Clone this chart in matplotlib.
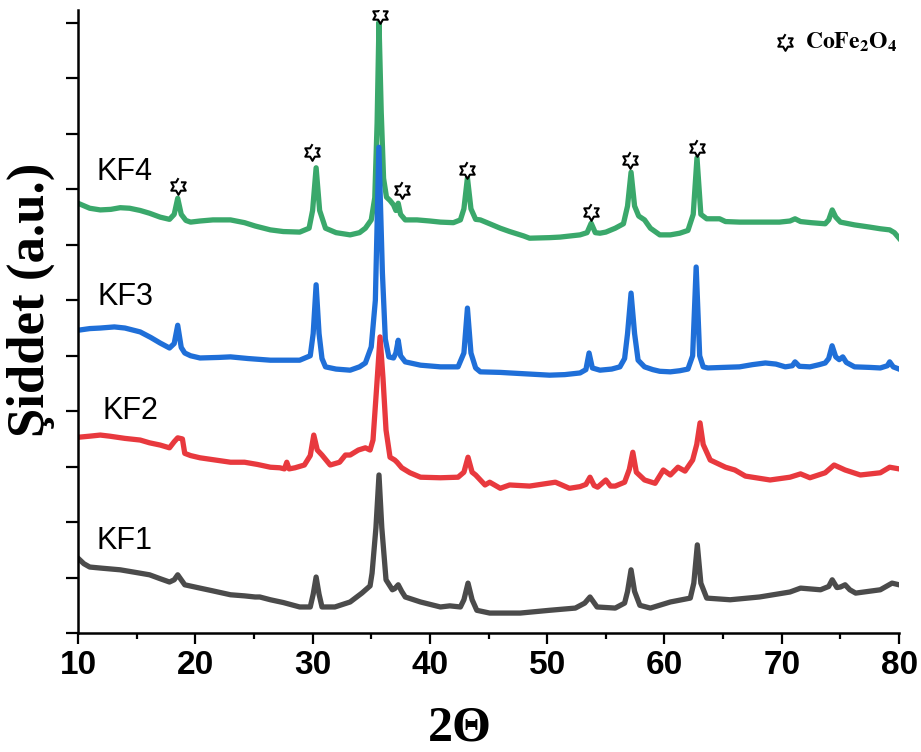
import numpy as np
import matplotlib.pyplot as plt
from matplotlib.path import Path
from matplotlib.ticker import MultipleLocator

# XRD patterns (2-theta in degrees, intensity in stacked a.u.)
kf4_2theta = [10.0, 11.0, 11.9, 12.8, 13.6, 14.4, 15.3, 16.1, 17.0, 17.8, 18.2, 18.5, 18.8, 19.2, 19.6,
              20.4, 21.5, 23.0, 24.2, 25.1, 26.4, 27.5, 28.9, 29.7, 30.0, 30.3, 30.6, 31.1, 32.0, 33.2,
              34.0, 34.5, 35.0, 35.3, 35.5, 35.66, 35.85, 36.05, 36.3, 36.6, 36.9, 37.1, 37.3, 37.5, 37.9,
              38.9, 40.0, 40.9, 42.0, 42.6, 42.9, 43.2, 43.5, 43.9, 44.3, 45.1, 46.0, 46.8, 48.0, 48.5,
              50.2, 51.1, 52.8, 53.4, 53.75, 54.1, 54.5, 55.0, 55.8, 56.5, 56.85, 57.15, 57.45, 57.8, 58.3,
              58.8, 59.6, 60.5, 61.3, 62.0, 62.45, 62.77, 63.1, 63.6, 64.7, 65.2, 66.4, 68.0, 69.8, 70.7,
              71.13, 71.6, 72.5, 73.7, 74.0, 74.3, 74.6, 75.0, 76.2, 77.5, 78.4, 79.2, 79.6, 80.0]
kf4_int = [7.75, 7.66, 7.63, 7.64, 7.67, 7.66, 7.62, 7.57, 7.50, 7.46, 7.55, 7.84, 7.55, 7.44, 7.41,
           7.43, 7.45, 7.45, 7.40, 7.34, 7.27, 7.24, 7.23, 7.30, 7.62, 8.39, 7.62, 7.30, 7.22, 7.18,
           7.22, 7.30, 7.45, 7.85, 9.20, 11.02, 9.40, 8.20, 7.86, 7.80, 7.72, 7.62, 7.75, 7.55, 7.45,
           7.45, 7.43, 7.41, 7.40, 7.45, 7.65, 8.21, 7.65, 7.46, 7.45, 7.38, 7.30, 7.24, 7.16, 7.12,
           7.13, 7.14, 7.18, 7.22, 7.39, 7.22, 7.21, 7.23, 7.30, 7.38, 7.70, 8.31, 7.70, 7.52, 7.45,
           7.30, 7.18, 7.18, 7.21, 7.26, 7.55, 8.57, 7.55, 7.47, 7.47, 7.42, 7.41, 7.41, 7.41, 7.43,
           7.47, 7.42, 7.40, 7.38, 7.45, 7.63, 7.50, 7.41, 7.36, 7.32, 7.29, 7.27, 7.22, 7.12]

kf3_2theta = [10.0, 11.0, 11.9, 13.1, 14.0, 15.3, 16.2, 17.0, 17.8, 18.2, 18.5, 18.8, 19.1, 19.6, 20.4,
              22.0, 23.0, 24.5, 26.4, 28.0, 28.9, 29.8, 30.05, 30.3, 30.55, 30.8, 31.1, 32.0, 33.2, 34.0,
              34.5, 35.0, 35.35, 35.65, 35.95, 36.2, 36.5, 36.9, 37.1, 37.3, 37.5, 37.9, 39.2, 40.9, 42.4,
              42.9, 43.2, 43.5, 43.9, 44.3, 46.0, 46.8, 48.5, 50.2, 51.5, 52.8, 53.3, 53.57, 53.85, 54.5,
              55.5, 56.2, 56.6, 56.85, 57.15, 57.45, 57.75, 58.3, 59.0, 59.6, 60.5, 61.3, 62.0, 62.4, 62.7,
              63.0, 63.3, 63.7, 65.0, 66.4, 67.5, 68.6, 69.5, 70.3, 70.9, 71.13, 71.5, 72.4, 73.2, 73.7,
              74.0, 74.29, 74.6, 74.9, 75.2, 75.5, 76.2, 77.5, 78.4, 79.0, 79.2, 79.5, 80.0]
kf3_int = [5.46, 5.49, 5.50, 5.52, 5.50, 5.43, 5.33, 5.23, 5.14, 5.22, 5.55, 5.15, 5.05, 5.00, 4.96,
           4.97, 4.98, 4.95, 4.92, 4.92, 4.92, 5.00, 5.40, 6.28, 5.40, 4.95, 4.80, 4.76, 4.74, 4.80,
           4.87, 5.16, 6.00, 8.76, 6.50, 5.30, 4.98, 4.96, 5.05, 5.28, 5.00, 4.89, 4.83, 4.80, 4.80,
           5.05, 5.86, 5.05, 4.78, 4.71, 4.70, 4.69, 4.67, 4.65, 4.66, 4.69, 4.75, 5.05, 4.78, 4.74,
           4.76, 4.80, 4.95, 5.40, 6.13, 5.40, 4.92, 4.80, 4.75, 4.72, 4.71, 4.73, 4.76, 5.00, 6.60,
           5.00, 4.80, 4.78, 4.79, 4.80, 4.84, 4.87, 4.85, 4.80, 4.82, 4.89, 4.81, 4.80, 4.84, 4.87,
           4.95, 5.18, 4.98, 4.93, 4.98, 4.88, 4.80, 4.79, 4.78, 4.82, 4.89, 4.80, 4.76]

kf2_2theta = [10.0, 11.0, 11.9, 12.7, 14.0, 15.3, 16.1, 17.0, 17.8, 18.2, 18.5, 18.9, 19.1, 19.6, 20.4,
              21.7, 23.0, 24.2, 25.3, 26.4, 27.2, 27.6, 27.8, 28.0, 28.5, 29.3, 29.8, 30.1, 30.4, 30.8,
              31.5, 32.3, 32.8, 33.2, 33.9, 34.5, 34.9, 35.15, 35.45, 35.75, 36.0, 36.26, 36.6, 37.0, 37.2,
              37.6, 38.3, 39.2, 40.9, 42.4, 42.9, 43.25, 43.6, 43.9, 44.7, 45.1, 46.0, 46.8, 48.5, 50.7,
              51.9, 52.8, 53.3, 53.65, 54.0, 54.3, 55.0, 55.4, 55.8, 56.6, 57.0, 57.3, 57.6, 58.3, 59.2,
              59.9, 60.5, 61.15, 61.75, 62.4, 62.75, 63.03, 63.3, 63.9, 65.2, 66.0, 66.9, 69.0, 70.7, 71.6,
              72.4, 73.7, 74.46, 75.4, 76.7, 78.4, 79.2, 80.0]
kf2_int = [3.53, 3.55, 3.57, 3.55, 3.51, 3.48, 3.43, 3.39, 3.34, 3.45, 3.52, 3.50, 3.24, 3.20, 3.16,
           3.12, 3.08, 3.08, 3.04, 2.99, 2.98, 2.96, 3.08, 2.96, 2.98, 3.03, 3.20, 3.57, 3.30, 3.21,
           3.03, 3.08, 3.21, 3.21, 3.30, 3.34, 3.30, 3.48, 4.40, 5.34, 4.60, 3.66, 3.17, 3.12, 3.08,
           2.98, 2.89, 2.81, 2.80, 2.81, 2.90, 3.17, 2.90, 2.85, 2.67, 2.72, 2.61, 2.67, 2.65, 2.72,
           2.61, 2.64, 2.68, 2.81, 2.66, 2.63, 2.76, 2.65, 2.65, 2.72, 2.95, 3.26, 2.90, 2.76, 2.70,
           2.94, 2.85, 2.99, 2.92, 3.12, 3.40, 3.79, 3.40, 3.12, 2.99, 2.94, 2.83, 2.76, 2.81, 2.87,
           2.80, 2.89, 3.03, 2.94, 2.85, 2.89, 2.99, 2.96]

kf1_2theta = [10.0, 10.5, 11.0, 12.0, 13.6, 15.0, 16.1, 17.0, 17.8, 18.2, 18.5, 18.8, 19.1, 20.4, 21.5,
              23.0, 24.2, 25.1, 25.5, 26.4, 27.5, 28.9, 29.8, 30.05, 30.3, 30.55, 30.8, 31.9, 33.2, 34.2,
              34.9, 35.07, 35.4, 35.66, 35.9, 36.26, 36.8, 37.0, 37.3, 37.6, 37.9, 39.2, 40.9, 41.7, 42.6,
              42.9, 43.25, 43.6, 44.0, 45.1, 47.7, 50.2, 52.4, 53.2, 53.65, 54.25, 55.8, 56.6, 56.85, 57.15,
              57.45, 57.9, 58.8, 60.5, 62.2, 62.5, 62.8, 63.1, 63.6, 65.6, 68.1, 70.7, 71.6, 73.3, 74.0,
              74.3, 74.7, 75.0, 75.4, 75.8, 76.3, 78.4, 79.4, 80.0]
kf1_int = [1.35, 1.25, 1.19, 1.17, 1.14, 1.09, 1.05, 0.98, 0.92, 0.96, 1.05, 0.96, 0.87, 0.81, 0.76,
           0.69, 0.67, 0.65, 0.65, 0.60, 0.55, 0.47, 0.47, 0.70, 1.01, 0.70, 0.47, 0.47, 0.56, 0.72,
           0.85, 1.08, 1.90, 2.85, 1.90, 0.96, 0.78, 0.80, 0.87, 0.75, 0.65, 0.56, 0.47, 0.49, 0.47,
           0.60, 0.90, 0.60, 0.41, 0.36, 0.36, 0.41, 0.45, 0.54, 0.65, 0.47, 0.45, 0.54, 0.75, 1.14,
           0.75, 0.50, 0.45, 0.56, 0.63, 0.90, 1.59, 0.90, 0.63, 0.60, 0.65, 0.74, 0.81, 0.78, 0.84,
           0.96, 0.82, 0.83, 0.87, 0.78, 0.72, 0.78, 0.90, 0.87]

sample_names = ['KF4', 'KF3', 'KF2', 'KF1']
label_2theta = [11.6, 11.7, 12.1, 11.6]
label_level = [8.31, 6.06, 4.0, 1.66]

# CoFe2O4 reflections marked on KF4
star_2theta = [18.5, 29.95, 35.75, 37.6, 43.2, 53.75, 57.1, 62.8]
star_level = [8.06, 8.67, 11.14, 7.99, 8.35, 7.59, 8.53, 8.75]

colors = ['#3aa86b', '#1f6fd8', '#e8393e', '#4b4b4b']

# six-pointed star marker (hexagram outline)
ang = np.deg2rad(90 + 30 * np.arange(12))
rad = np.where(np.arange(12) % 2 == 0, 1.0, 1 / np.sqrt(3))
hexagram = Path(np.column_stack([rad * np.cos(ang), rad * np.sin(ang)]))

fig = plt.figure(figsize=(9.21, 7.52), dpi=100)
ax = fig.add_axes([0.0847, 0.1582, 0.8915, 0.8285])

series = [(kf4_2theta, kf4_int), (kf3_2theta, kf3_int), (kf2_2theta, kf2_int), (kf1_2theta, kf1_int)]
for (tt, inten), c in zip(series, colors):
    ax.plot(tt, inten, color=c, lw=3.8, solid_joinstyle='round')

for name, lx, ly in zip(sample_names, label_2theta, label_level):
    ax.text(lx, ly, name, fontsize=22, family='Liberation Sans', va='center', ha='left')

ax.plot(star_2theta, star_level, ls='none', marker=hexagram, ms=12, mfc='white', mec='black', mew=1.5)

# legend entry
ax.plot([0.861], [0.949], transform=ax.transAxes, marker=hexagram, ms=12, mfc='white', mec='black',
        mew=1.5, clip_on=False)
ax.text(0.885, 0.949, r'$\mathbf{CoFe_2O_4}$', transform=ax.transAxes, fontsize=17, va='center', ha='left',
        math_fontfamily='stix')

ax.set_xlim(10, 80)
ax.set_ylim(0, 11.235)
ax.xaxis.set_major_locator(MultipleLocator(10))
ax.xaxis.set_minor_locator(MultipleLocator(5))
ax.yaxis.set_major_locator(MultipleLocator(1))
ax.set_yticklabels([])

for side in ['top', 'right']:
    ax.spines[side].set_visible(False)
for side in ['left', 'bottom']:
    ax.spines[side].set_linewidth(1.8)

ax.tick_params(axis='y', which='major', direction='out', length=9, width=1.6)
ax.tick_params(axis='x', which='major', direction='out', length=8, width=1.6, pad=4)
ax.tick_params(axis='x', which='minor', direction='out', length=4, width=1.6)
for lab in ax.get_xticklabels():
    lab.set_fontfamily('Liberation Sans')
    lab.set_fontweight('bold')
    lab.set_fontsize(24)

ax.set_xlabel('2Θ', family='Liberation Serif', fontweight='bold', fontsize=36, va='center')
ax.xaxis.set_label_coords(0.465, -0.153)
ax.set_ylabel('Şiddet (a.u.)', family='Liberation Serif', fontweight='bold', fontsize=38, va='center')
ax.yaxis.set_label_coords(-0.057, 0.535)

plt.savefig('out.png', dpi=100)
